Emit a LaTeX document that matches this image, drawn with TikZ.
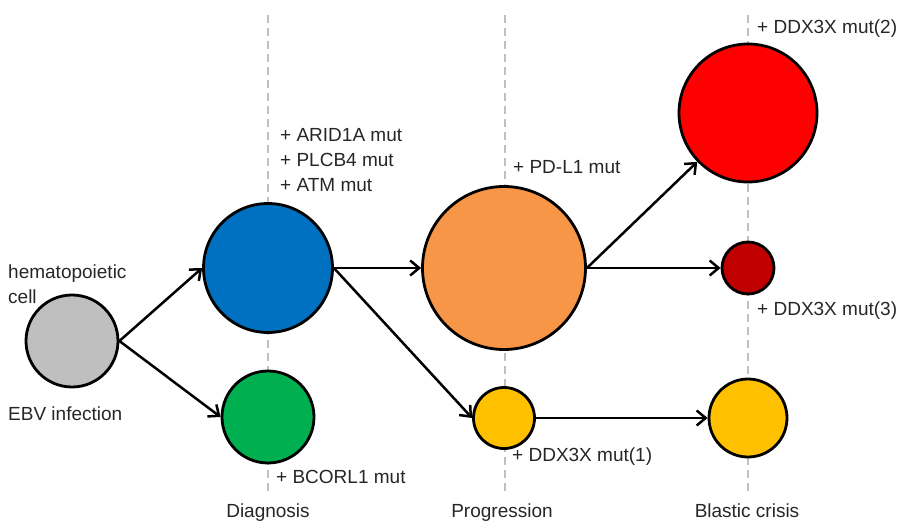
\documentclass[tikz,border=0pt]{standalone}
\usepackage{fontspec}
\setmainfont{Liberation Sans}
\usetikzlibrary{arrows.meta}
\definecolor{txt}{HTML}{262626}
\definecolor{guidegray}{HTML}{C0C0C0}
\definecolor{hscgray}{HTML}{BFBFBF}
\definecolor{diagblue}{HTML}{0070C0}
\definecolor{diaggreen}{HTML}{00B050}
\definecolor{progorange}{HTML}{F79646}
\definecolor{cloneyellow}{HTML}{FFC000}
\definecolor{blastred}{HTML}{FF0000}
\definecolor{blastdark}{HTML}{C00000}

\begin{document}
\begin{tikzpicture}[x=1pt,y=-1pt,font={\fontsize{19}{25}\selectfont},text=txt,
  cell/.style={circle,draw=black,line width=2.8pt,inner sep=0pt},
  flow/.style={-{Straight Barb[length=9pt,width=15pt]},line width=2.5pt},
  guide/.style={guidegray,line width=2.5pt,dash pattern=on 8pt off 5pt},
  mut/.style={anchor=west,align=left,inner sep=0pt}]
\useasboundingbox (0,0) rectangle (909,524);

% stage guide lines
\foreach \x in {268,505,748}
  \draw[guide] (\x,15) -- (\x,495);

% cells
\node[cell,fill=hscgray,minimum size=92pt] (hsc) at (72,341) {};
\node[cell,fill=diagblue,minimum size=129pt] (diagA) at (268,268) {};
\node[cell,fill=diaggreen,minimum size=92pt] (diagB) at (268,417) {};
\node[cell,fill=progorange,minimum size=163pt] (progA) at (504,268) {};
\node[cell,fill=cloneyellow,minimum size=61pt] (progB) at (504,418) {};
\node[cell,fill=blastred,minimum size=138pt] (blastA) at (748,113) {};
\node[cell,fill=blastdark,minimum size=52pt] (blastB) at (748,268) {};
\node[cell,fill=cloneyellow,minimum size=78pt] (blastC) at (748,418) {};

% arrows
\draw[flow] (hsc.east) -- (diagA.west);
\draw[flow] (hsc.east) -- (diagB.west);
\draw[flow] (diagA.east) -- (progA.west);
\draw[flow] (diagA.east) -- (progB.west);
\draw[flow] (progA.east) -- (blastA);
\draw[flow] (progA.east) -- (blastB.west);
\draw[flow] (progB.east) -- (blastC.west);

% labels
\node[mut] (lhsc) at (8,284) {hematopoietic\\cell};
\node[mut] (lebv) at (8,414) {EBV infection};
\node[mut] (ldiagA) at (280,160) {+ ARID1A mut\\+ PLCB4 mut\\+ ATM mut};
\node[mut] (ldiagB) at (276,477) {+ BCORL1 mut};
\node[mut] (lprogA) at (513,167) {+ PD-L1 mut};
\node[mut] (lprogB) at (512,457) {+ DDX3X mut(1)};
\node[mut] (lblastA) at (757,29) {+ DDX3X mut(2)};
\node[mut] (lblastB) at (757,311) {+ DDX3X mut(3)};

% stages
\node[inner sep=0pt,anchor=base] (sdiag) at (268,517) {Diagnosis};
\node[inner sep=0pt,anchor=base] (sprog) at (502,517) {Progression};
\node[inner sep=0pt,anchor=base] (sblast) at (747,517) {Blastic crisis};

\end{tikzpicture}
\end{document}
